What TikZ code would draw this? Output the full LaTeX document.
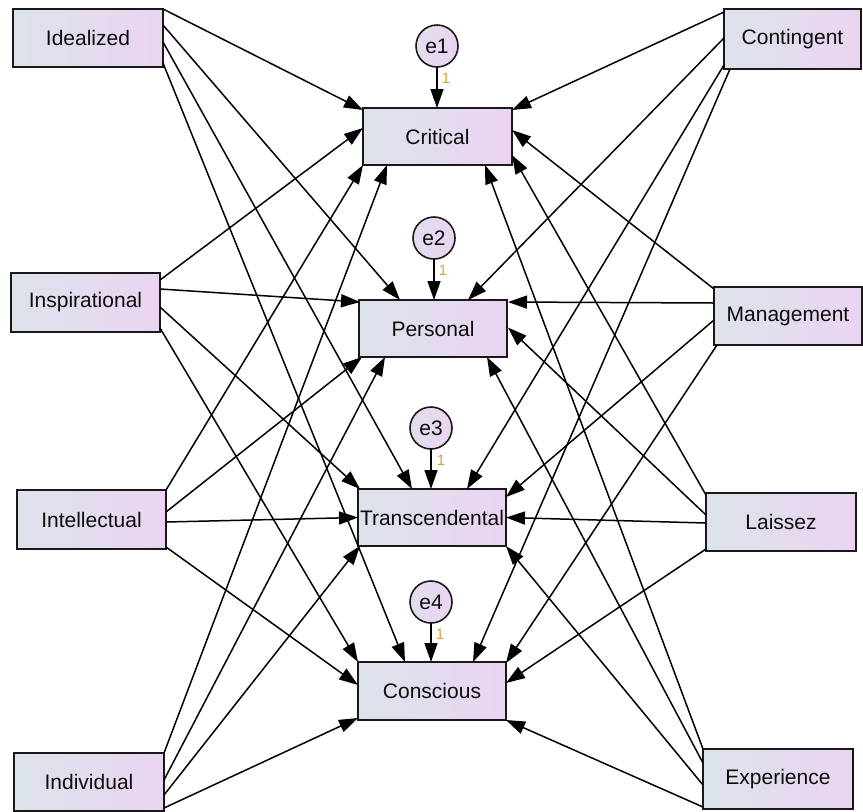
\documentclass[tikz,border=0pt]{standalone}
\usepackage{fontspec}
\setmainfont{Liberation Sans}
\usetikzlibrary{calc,arrows.meta}
\definecolor{boxL}{HTML}{DCE3EB}
\definecolor{boxR}{HTML}{EBD4F1}
\definecolor{one}{HTML}{E0A030}
\begin{document}
\begin{tikzpicture}[x=1pt,y=-1pt,
  var/.style={draw=black!90,line width=1.9pt,left color=boxL,right color=boxR,
    minimum height=58pt,inner sep=0pt,outer sep=0pt,text=black!95,
    font=\fontsize{21}{25}\selectfont},
  err/.style={circle,draw=black!90,line width=1.6pt,left color=boxL!60!boxR,right color=boxR,
    minimum size=42pt,inner sep=0pt,outer sep=0pt,text=black!95,
    font=\fontsize{21}{25}\selectfont},
  arr/.style={line width=1.5pt,-{Triangle[length=19pt,width=13pt]}},
  lab/.style={text=one,font=\fontsize{15}{17}\selectfont,inner sep=0pt}]
\useasboundingbox (0,0) rectangle (863,812);
% left column
\node[var,minimum width=150pt] (Idealized) at (88,38) {Idealized};
\node[var,minimum width=149pt,minimum height=59pt] (Inspirational) at (85.5,302.5) {Inspirational};
\node[var,minimum width=149pt,minimum height=59pt] (Intellectual) at (91.5,519.5) {Intellectual};
\node[var,minimum width=150pt] (Individual) at (89,782) {Individual};
% middle column
\node[var,minimum width=149pt,minimum height=57pt] (Critical) at (437.5,136.5) {Critical};
\node[var,minimum width=148pt,minimum height=57pt] (Personal) at (433,328.5) {Personal};
\node[var,minimum width=148pt,minimum height=57pt] (Transcendental) at (432,517.5) {Transcendental};
\node[var,minimum width=148pt] (Conscious) at (432,691) {Conscious};
% right column
\node[var,minimum width=137pt,minimum height=60pt] (Contingent) at (792.5,39) {Contingent};
\node[var,minimum width=148pt] (Management) at (788,316) {Management};
\node[var,minimum width=150pt] (Laissez) at (781,522) {Laissez};
\node[var,minimum width=150pt,minimum height=60pt] (Experience) at (778,779) {Experience};
% error terms
\node[err] (e1) at (437,46) {e1};
\node[err] (e2) at (434,238) {e2};
\node[err] (e3) at (431,428) {e3};
\node[err] (e4) at (431,602) {e4};
\draw[arr] (e1.south) -- (e1.south |- Critical.north);
\draw[arr] (e2.south) -- (e2.south |- Personal.north);
\draw[arr] (e3.south) -- (e3.south |- Transcendental.north);
\draw[arr] (e4.south) -- (e4.south |- Conscious.north);
\node[lab] at ($(e1.south)+(9,11)$) {1};
\node[lab] at ($(e2.south)+(9,11)$) {1};
\node[lab] at ($(e3.south)+(10,11)$) {1};
\node[lab] at ($(e4.south)+(9,11)$) {1};
% Idealized
\draw[arr] (Idealized.north east) -- ($(Critical.north west)+(0,2)$);
\draw[arr] ($(Idealized.north east)+(0,16)$) -- ($(Personal.north west)+(41,0)$);
\draw[arr] ($(Idealized.north east)+(0,33)$) -- ($(Transcendental.north west)+(54,0)$);
\draw[arr] ($(Idealized.north east)+(0,54)$) -- ($(Conscious.north west)+(47,0)$);
% Inspirational
\draw[arr] ($(Inspirational.north east)+(0,7)$) -- ($(Critical.north west)+(0,20)$);
\draw[arr] ($(Inspirational.north east)+(0,16)$) -- ($(Personal.north west)+(1,2)$);
\draw[arr] ($(Inspirational.north east)+(0,34)$) -- ($(Transcendental.north west)+(2,0)$);
\draw[arr] ($(Inspirational.north east)+(0,55)$) -- (Conscious.north west);
% Intellectual
\draw[arr] (Intellectual.north east) -- (Critical.south west);
\draw[arr] ($(Intellectual.north east)+(0,22)$) -- ($(Personal.south west)+(3,0)$);
\draw[arr] ($(Intellectual.north east)+(0,32)$) -- (Transcendental.west);
\draw[arr] ($(Intellectual.north east)+(0,57)$) -- ($(Conscious.west)+(0,-6)$);
% Individual
\draw[arr] (Individual.north east) -- ($(Critical.south west)+(24,0)$);
\draw[arr] ($(Individual.north east)+(0,27)$) -- ($(Personal.south west)+(26,0)$);
\draw[arr] ($(Individual.north east)+(0,42)$) -- ($(Transcendental.south west)+(2,0)$);
\draw[arr] ($(Individual.north east)+(0,55)$) -- ($(Conscious.south west)+(0,-2)$);
% Contingent
\draw[arr] ($(Contingent.north west)+(0,3)$) -- ($(Critical.north east)+(0,2)$);
\draw[arr] ($(Contingent.north west)+(0,29)$) -- ($(Personal.north east)+(-39,0)$);
\draw[arr] ($(Contingent.north west)+(0,56)$) -- ($(Transcendental.north east)+(-39,0)$);
\draw[arr] ($(Contingent.south west)+(6,0)$) -- ($(Conscious.north east)+(-33,0)$);
% Management
\draw[arr] ($(Management.north west)+(0,2)$) -- ($(Critical.north east)+(0,22)$);
\draw[arr] ($(Management.north west)+(0,16)$) -- ($(Personal.north east)+(1,2)$);
\draw[arr] ($(Management.north west)+(0,33)$) -- ($(Transcendental.north east)+(0,8)$);
\draw[arr] ($(Management.south west)+(3,0)$) -- ($(Conscious.north east)+(0,1)$);
% Laissez
\draw[arr] ($(Laissez.north west)+(0,2)$) -- ($(Critical.south east)+(0,-10)$);
\draw[arr] ($(Laissez.north west)+(0,22)$) -- ($(Personal.east)+(1,-1)$);
\draw[arr] ($(Laissez.north west)+(0,30)$) -- (Transcendental.east);
\draw[arr] ($(Laissez.south west)+(0,-2)$) -- ($(Conscious.east)+(0,-8)$);
% Experience
\draw[arr] (Experience.north west) -- ($(Critical.south east)+(-27,0)$);
\draw[arr] ($(Experience.north west)+(0,14)$) -- ($(Personal.south east)+(-20,0)$);
\draw[arr] ($(Experience.north west)+(0,36)$) -- (Transcendental.south east);
\draw[arr] ($(Experience.north west)+(0,58)$) -- (Conscious.south east);
\end{tikzpicture}
\end{document}
